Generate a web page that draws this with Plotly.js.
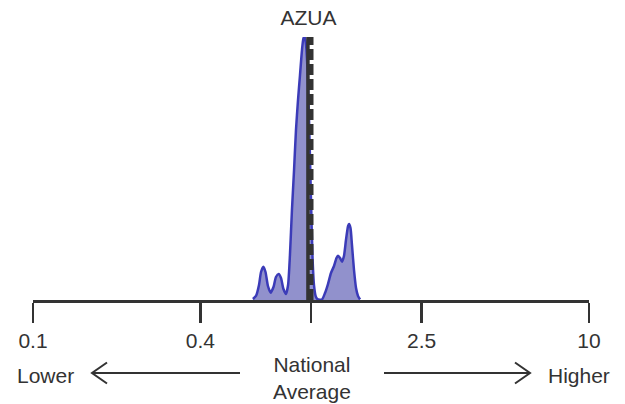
<!DOCTYPE html>
<html>
<head>
<meta charset="utf-8">
<script src="https://cdn.plot.ly/plotly-3.0.1.min.js"></script>
<style>html,body{margin:0;padding:0;background:#fff;}#chart{width:625px;height:404px;}</style>
</head>
<body>
<div id="chart"></div>
<script>
// Relative rate (x, log scale) and density (y)
const rateValues = [0.618, 0.634, 0.650, 0.661, 0.674, 0.686, 0.700, 0.716, 0.733, 0.748,
  0.765, 0.780, 0.796, 0.813, 0.827, 0.840, 0.854, 0.869, 0.883, 0.898,
  0.913, 0.928, 0.940, 0.949, 0.960, 0.975, 0.988, 1.000, 1.012, 1.025,
  1.042, 1.060, 1.095, 1.123, 1.151, 1.180, 1.210, 1.235, 1.251, 1.272,
  1.293, 1.314, 1.336, 1.359, 1.370, 1.387, 1.404, 1.428, 1.452, 1.476, 1.501];
const densityValues = [0.015, 0.061, 0.228, 0.426, 0.506, 0.426, 0.213, 0.111, 0.198, 0.350,
  0.395, 0.335, 0.167, 0.091, 0.228, 0.684, 1.369, 1.977, 2.586, 3.042,
  3.422, 3.802, 3.985, 4.000, 3.878, 3.346, 2.434, 1.521, 0.684, 0.228,
  0.046, 0.008, 0.008, 0.106, 0.243, 0.411, 0.517, 0.639, 0.674, 0.639,
  0.583, 0.669, 0.913, 1.125, 1.156, 1.095, 0.837, 0.456, 0.183, 0.061, 0.008];
const tickValues = [0.1, 0.4, 1, 2.5, 10];
const tickLabels = ['0.1', '0.4', '', '2.5', '10'];
const regionName = 'AZUA';
const nationalAverage = 1.0;
const regionValue = 0.975;
const bottomLabels = ['Lower', 'National<br>Average', 'Higher'];

const fontFam = 'Liberation Sans, Arial, sans-serif';
const dark = '#333333';
const fs = 21;

const trace = {
  x: rateValues, y: densityValues, type: 'scatter', mode: 'lines',
  fill: 'tozeroy', fillcolor: '#9191cc',
  line: {color: '#3b3bb8', width: 2.5, shape: 'spline', smoothing: 0.6},
  hoverinfo: 'skip', showlegend: false
};

const layout = {
  width: 625, height: 404,
  margin: {l: 33, r: 36, t: 37, b: 104},
  paper_bgcolor: '#ffffff', plot_bgcolor: '#ffffff',
  font: {family: fontFam, size: fs, color: dark},
  title: {text: regionName, font: {family: fontFam, size: fs, color: dark},
          x: 0.4936, xref: 'container', xanchor: 'center',
          y: 0.956, yref: 'container', yanchor: 'middle'},
  xaxis: {type: 'log', range: [-1, 1], tickmode: 'array', tickvals: tickValues, ticktext: tickLabels,
          ticks: 'outside', ticklen: 20, tickwidth: 2.5, tickcolor: dark,
          showline: true, linecolor: dark, linewidth: 2.5, showgrid: false, zeroline: false,
          tickfont: {family: fontFam, size: fs, color: dark}, fixedrange: true},
  yaxis: {range: [0, 4.0], visible: false, showgrid: false, zeroline: false, fixedrange: true},
  shapes: [
    {type: 'line', xref: 'x', yref: 'paper', x0: regionValue, x1: regionValue, y0: 0, y1: 1,
     line: {color: dark, width: 3.5}},
    {type: 'line', xref: 'x', yref: 'paper', x0: nationalAverage, x1: nationalAverage, y0: 0, y1: 1,
     line: {color: dark, width: 5, dash: '11px,4px'}},
    // left arrow
    {type: 'path', xref: 'paper', yref: 'paper', path: 'M0.3723,-0.2776 L0.1061,-0.2776', line: {color: dark, width: 2}},
    {type: 'path', xref: 'paper', yref: 'paper', path: 'M0.1331,-0.2376 L0.1061,-0.2776 L0.1331,-0.3175', line: {color: dark, width: 2}},
    // right arrow
    {type: 'path', xref: 'paper', yref: 'paper', path: 'M0.6313,-0.2776 L0.8939,-0.2776', line: {color: dark, width: 2}},
    {type: 'path', xref: 'paper', yref: 'paper', path: 'M0.8669,-0.2376 L0.8939,-0.2776 L0.8669,-0.3175', line: {color: dark, width: 2}}
  ],
  annotations: [
    {text: bottomLabels[0], xref: 'paper', yref: 'paper', x: 0.0216, y: -0.2852, xanchor: 'center', yanchor: 'middle', showarrow: false, font: {family: fontFam, size: fs, color: dark}},
    {text: bottomLabels[1], xref: 'paper', yref: 'paper', x: 0.5018, y: -0.2947, xanchor: 'center', yanchor: 'middle', showarrow: false, font: {family: fontFam, size: fs, color: dark}},
    {text: bottomLabels[2], xref: 'paper', yref: 'paper', x: 0.982, y: -0.2852, xanchor: 'center', yanchor: 'middle', showarrow: false, font: {family: fontFam, size: fs, color: dark}}
  ]
};

Plotly.newPlot('chart', [trace], layout, {displayModeBar: false, staticPlot: true});
</script>
</body>
</html>
